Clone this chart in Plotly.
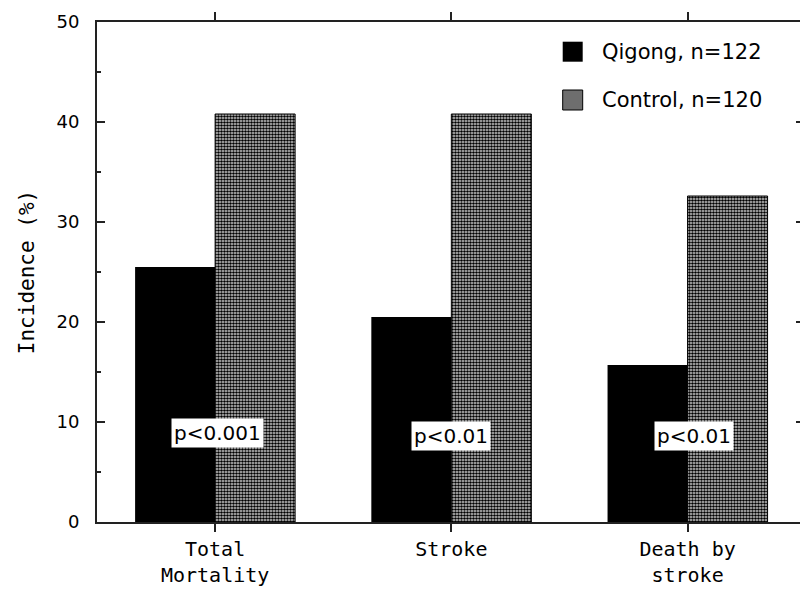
import plotly.graph_objects as go

# Outcome categories and incidence (%) per group
categories = ["Total<br>Mortality", "Stroke", "Death by<br>stroke"]
qigong_values = [25.5, 20.5, 15.7]
control_values = [40.8, 40.8, 32.6]
p_labels = ["p<0.001", "p<0.01", "p<0.01"]
p_label_y = [8.9, 8.6, 8.6]
series_names = ["Qigong, n=122", "Control, n=120"]
y_ticks = [0, 10, 20, 30, 40, 50]
right_ticks = [10, 20, 30, 40]

AXIS_COLOR = "#222222"
SANS = "DejaVu Sans"
MONO = "DejaVu Sans Mono"

fig = go.Figure()

fig.add_trace(go.Bar(
    x=categories, y=qigong_values, name=series_names[0],
    marker=dict(color="black", line=dict(width=0)),
    showlegend=False,
))
fig.add_trace(go.Bar(
    x=categories, y=control_values, name=series_names[1],
    marker=dict(
        color="white",
        line=dict(color="black", width=1),
        pattern=dict(shape=".", fgcolor="black", bgcolor="#d8d8d8",
                     size=3, solidity=0.6, fillmode="replace"),
    ),
    showlegend=False,
))
# empty trace so the right-hand tick axis is rendered
fig.add_trace(go.Scatter(x=[], y=[], yaxis="y2", showlegend=False))

# p-value labels sitting across each pair of bars
shifts = [2, 0, 6]
for cat, txt, yv, dx in zip(categories, p_labels, p_label_y, shifts):
    fig.add_annotation(
        x=cat, y=yv, text=txt, showarrow=False, xshift=dx,
        bgcolor="white", borderpad=2,
        font=dict(family=SANS, size=20, color="black"),
    )

# legend: swatches and labels in the upper right
plot_left, plot_w = 97, 703
plot_top, plot_h = 22, 500

def px_x(v):
    return (v - plot_left) / plot_w

def px_y(v):
    return (plot_top + plot_h - v) / plot_h

legend_rows = [51.7, 100.0]
swatch_fill = ["black", "#6e6e6e"]
swatch_line = [0, 1]
for name, yc, fill, lw in zip(series_names, legend_rows, swatch_fill, swatch_line):
    fig.add_shape(
        type="rect", xref="paper", yref="paper",
        x0=px_x(562.7), x1=px_x(582.7), y0=px_y(yc + 10), y1=px_y(yc - 10),
        fillcolor=fill, line=dict(color="black", width=lw),
    )
    fig.add_annotation(
        xref="paper", yref="paper", x=px_x(600), y=px_y(yc),
        xanchor="left", yanchor="middle", text=name, showarrow=False,
        font=dict(family=SANS, size=21, color="black"),
    )

fig.update_layout(
    width=800, height=591,
    margin=dict(l=97, r=0, t=22, b=69),
    paper_bgcolor="white", plot_bgcolor="white",
    barmode="group", bargap=0.3226, bargroupgap=0,
    xaxis=dict(
        type="category", range=[-0.5, 2.476],
        showline=True, linecolor=AXIS_COLOR, linewidth=2, mirror="ticks",
        ticks="outside", ticklen=8, tickwidth=2, tickcolor=AXIS_COLOR,
        showgrid=False, zeroline=False,
        tickfont=dict(family=MONO, size=20, color="black"),
    ),
    yaxis=dict(
        range=[0, 50], tickvals=y_ticks,
        showline=True, linecolor=AXIS_COLOR, linewidth=2, mirror=False,
        ticks="inside", ticklen=8, tickwidth=2, tickcolor=AXIS_COLOR,
        minor=dict(ticks="inside", ticklen=4, tickwidth=2, tickcolor=AXIS_COLOR, dtick=5),
        showgrid=False, zeroline=False, ticklabelstandoff=12,
        tickfont=dict(family=SANS, size=18, color="black"),
        title=dict(text="Incidence (%)", standoff=16,
                   font=dict(family=MONO, size=21, color="black")),
    ),
    yaxis2=dict(
        overlaying="y", side="right", range=[0, 50], tickvals=right_ticks,
        showline=False, showticklabels=False, showgrid=False, zeroline=False,
        ticks="inside", ticklen=4, tickwidth=2, tickcolor=AXIS_COLOR,
    ),
)

fig.write_html("out.html")
